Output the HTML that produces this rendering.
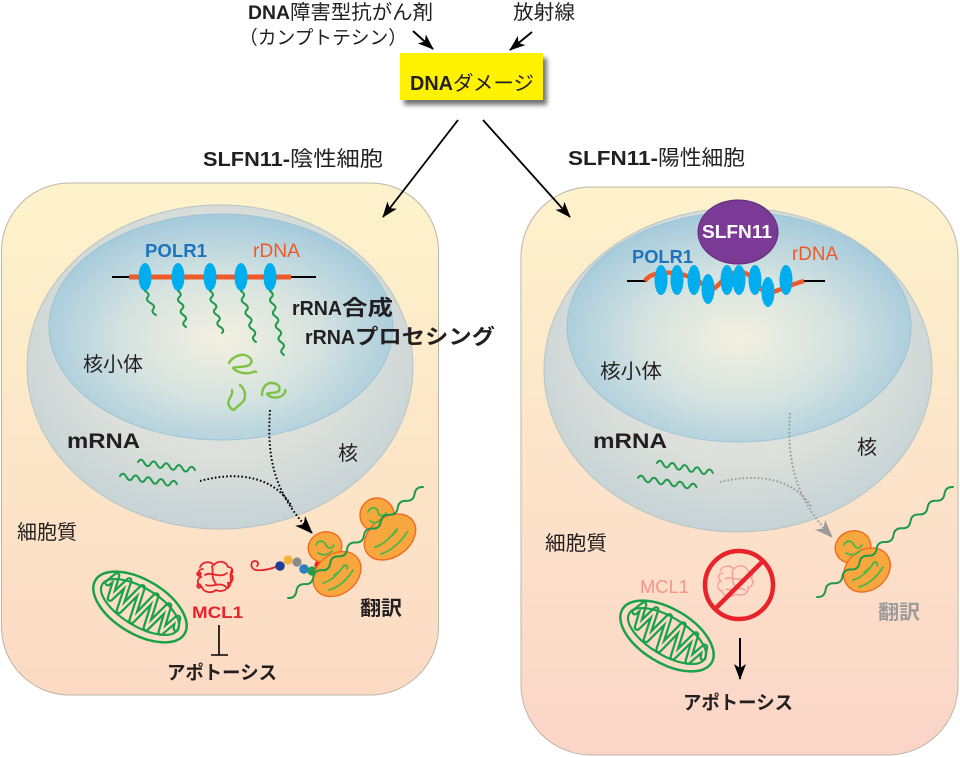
<!DOCTYPE html>
<html><head><meta charset="utf-8">
<style>
html,body{margin:0;padding:0;background:#fff;}
svg{display:block;}
text{font-family:"Liberation Sans","Noto Sans CJK JP",sans-serif;fill:#231f20;}
.b{font-weight:bold;}
</style></head><body>
<svg width="960" height="757" viewBox="0 0 960 757" xmlns="http://www.w3.org/2000/svg">
<defs>
 <linearGradient id="cellL" x1="0" y1="0" x2="0" y2="1">
  <stop offset="0" stop-color="#fdf3cb"/>
  <stop offset="1" stop-color="#fcdac4"/>
 </linearGradient>
 <linearGradient id="cellR" x1="0" y1="0" x2="0" y2="1">
  <stop offset="0" stop-color="#fdf2cb"/>
  <stop offset="1" stop-color="#fbd5c8"/>
 </linearGradient>
 <radialGradient id="nuc" cx="0.5" cy="0.42" r="0.6">
  <stop offset="0" stop-color="#eeede3"/>
  <stop offset="0.6" stop-color="#dcdfda"/>
  <stop offset="1" stop-color="#c4d2d6"/>
 </radialGradient>
 <radialGradient id="nuo" cx="0.5" cy="0.55" r="0.55">
  <stop offset="0" stop-color="#f3f0e0"/>
  <stop offset="0.5" stop-color="#d6e3e0"/>
  <stop offset="1" stop-color="#a4cadc"/>
 </radialGradient>
 <marker id="ah" markerUnits="userSpaceOnUse" markerWidth="16" markerHeight="12" viewBox="0 0 16 12" refX="15" refY="6" orient="auto">
  <path d="M0,0 L16,6 L0,12 L4,6Z" fill="#000"/>
 </marker>
 <marker id="ahd" markerUnits="userSpaceOnUse" markerWidth="18" markerHeight="14" viewBox="0 0 18 14" refX="17" refY="7" orient="auto">
  <path d="M0,0 L18,7 L0,14 L5,7Z" fill="#000"/>
 </marker>
 <marker id="ahg" markerUnits="userSpaceOnUse" markerWidth="18" markerHeight="14" viewBox="0 0 18 14" refX="17" refY="7" orient="auto">
  <path d="M0,0 L18,7 L0,14 L5,7Z" fill="#9a9a9a"/>
 </marker>
 <filter id="sh" x="-20%" y="-20%" width="150%" height="160%">
  <feDropShadow dx="4" dy="5" stdDeviation="2.5" flood-color="#000" flood-opacity="0.55"/>
 </filter>
</defs>

<!-- top labels -->
<text x="248" y="19" font-size="19" class="b" textLength="42" lengthAdjust="spacingAndGlyphs">DNA</text>
<text x="290" y="19" font-size="20" textLength="143" lengthAdjust="spacingAndGlyphs">障害型抗がん剤</text>
<text x="239" y="44" font-size="19" textLength="168" lengthAdjust="spacingAndGlyphs">（カンプトテシン）</text>
<text x="513" y="19" font-size="20" textLength="62" lengthAdjust="spacingAndGlyphs">放射線</text>

<line x1="413" y1="31" x2="433" y2="49" stroke="#000" stroke-width="2" marker-end="url(#ah)"/>
<line x1="532" y1="32" x2="510" y2="50" stroke="#000" stroke-width="2" marker-end="url(#ah)"/>

<rect x="400" y="53" width="143" height="47" fill="#fff200" filter="url(#sh)"/>
<text x="410" y="90" font-size="20" class="b" textLength="43" lengthAdjust="spacingAndGlyphs">DNA</text>
<text x="453" y="90" font-size="20" textLength="81" lengthAdjust="spacingAndGlyphs">ダメージ</text>

<text x="203" y="166" font-size="20" class="b" textLength="87" lengthAdjust="spacingAndGlyphs">SLFN11-</text>
<text x="290" y="166" font-size="21" textLength="93" lengthAdjust="spacingAndGlyphs">陰性細胞</text>
<text x="568" y="165" font-size="20" class="b" textLength="90" lengthAdjust="spacingAndGlyphs">SLFN11-</text>
<text x="658" y="165" font-size="21" textLength="87" lengthAdjust="spacingAndGlyphs">陽性細胞</text>

<!-- cells -->
<rect x="1.5" y="183" width="437" height="512" rx="68" ry="68" fill="url(#cellL)" stroke="#bdb5a8" stroke-width="1"/>
<rect x="521" y="187" width="437" height="568" rx="70" ry="70" fill="url(#cellR)" stroke="#bdb5a8" stroke-width="1"/>

<line x1="458" y1="120" x2="383" y2="217" stroke="#000" stroke-width="1.8" marker-end="url(#ah)"/>
<line x1="483" y1="120" x2="570" y2="217" stroke="#000" stroke-width="1.8" marker-end="url(#ah)"/>

<!-- LEFT nucleus -->
<ellipse cx="220" cy="367" rx="193" ry="162" fill="url(#nuc)" stroke="#b6c4c6" stroke-width="1"/>
<ellipse cx="221" cy="327" rx="172" ry="113" fill="url(#nuo)" stroke="#9ec3d3" stroke-width="1"/>

<text x="145" y="257" font-size="18" class="b" fill="#1c75bc" style="fill:#1c75bc" textLength="62" lengthAdjust="spacingAndGlyphs">POLR1</text>
<text x="253" y="257" font-size="19" style="fill:#f05a28" textLength="47" lengthAdjust="spacingAndGlyphs">rDNA</text>

<line x1="112" y1="277" x2="316" y2="277" stroke="#000" stroke-width="2"/>
<line x1="129" y1="277" x2="291" y2="277" stroke="#f05a28" stroke-width="5"/>
<g fill="#00aeef">
 <ellipse cx="145" cy="277" rx="6.5" ry="14"/>
 <ellipse cx="178" cy="277" rx="6.5" ry="14"/>
 <ellipse cx="210" cy="277" rx="6.5" ry="14"/>
 <ellipse cx="241" cy="277" rx="6.5" ry="14"/>
 <ellipse cx="270" cy="277" rx="6.5" ry="14"/>
</g>
<g fill="none" stroke="#1f9a4a" stroke-width="2" stroke-linecap="round">
 <path d="M145,291 q5.4,3 2.75,6 t2.75,6 t2.75,6 t2.75,6"/>
 <path d="M178,291 q4.7,3 1.33,6 t1.33,6 t1.33,6 t1.33,6 t1.33,6 t1.33,6"/>
 <path d="M210,291 q4.9,3 1.71,6 t1.71,6 t1.71,6 t1.71,6 t1.71,6 t1.71,6 t1.71,6"/>
 <path d="M241,291 q5,3.2 1.875,6.375 t1.875,6.375 t1.875,6.375 t1.875,6.375 t1.875,6.375 t1.875,6.375 t1.875,6.375 t1.875,6.375"/>
 <path d="M270,291 q4.7,3.2 1.4,6.4 t1.4,6.4 t1.4,6.4 t1.4,6.4 t1.4,6.4 t1.4,6.4 t1.4,6.4 t1.4,6.4 t1.4,6.4 t1.4,6.4"/>
</g>
<!-- processed rRNA fragments -->
<g fill="none" stroke="#7dc242" stroke-width="2.4" stroke-linecap="round" stroke-linejoin="round">
 <path d="M229,363 C232,357 240,354 245,355 C251,357 254,362 249,365 C245,368 236,366 233,368 C236,372 244,374 250,373 C253,372 255,371 256,372"/>
 <path d="M240,385 C245,389 246,395 244,400 C242,404 238,405 234,410 C230,409 227,404 229,400 C231,396 233,393 232,390"/>
 <path d="M262,395 C262,388 266,383 271,383 C277,383 281,386 279,391 C276,394 268,392 267,394 C270,398 278,399 283,395 C285,393 286,391 285,390"/>
</g>

<text x="292" y="315" font-size="20" class="b" textLength="50" lengthAdjust="spacingAndGlyphs">rRNA</text>
<text x="342" y="315" font-size="21" class="b" textLength="51" lengthAdjust="spacingAndGlyphs">合成</text>
<text x="305" y="344" font-size="20" class="b" textLength="50" lengthAdjust="spacingAndGlyphs">rRNA</text>
<text x="355" y="344" font-size="21" class="b" textLength="140" lengthAdjust="spacingAndGlyphs">プロセシング</text>

<text x="83" y="371" font-size="20" textLength="60" lengthAdjust="spacingAndGlyphs">核小体</text>
<text x="67" y="448" font-size="21" class="b" textLength="73" lengthAdjust="spacingAndGlyphs">mRNA</text>
<text x="338" y="460" font-size="20">核</text>

<g fill="none" stroke="#1f9a4a" stroke-width="2" stroke-linecap="round">
 <path d="M138,462 q3.2,-5 6.33,0.9 t6.33,0.9 t6.33,0.9 t6.33,0.9 t6.33,0.9 t6.33,0.9 t6.33,0.9 t6.33,0.9 t6.33,0.9"/>
 <path d="M120,476 q3.2,-5 6.33,0.9 t6.33,0.9 t6.33,0.9 t6.33,0.9 t6.33,0.9 t6.33,0.9 t6.33,0.9 t6.33,0.9 t6.33,0.9"/>
</g>

<!-- dotted transport arrows left -->
<g fill="none" stroke="#000" stroke-width="2" stroke-dasharray="1.6 2.2">
 <path d="M270,410 C267,455 272,492 312,533" marker-end="url(#ahd)"/>
 <path d="M200,481 C240,470 276,478 292,507"/>
</g>

<text x="17" y="539" font-size="20" textLength="60" lengthAdjust="spacingAndGlyphs">細胞質</text>

<!-- left mitochondrion -->
<g transform="translate(140,607) rotate(31)" fill="none" stroke-linejoin="round" stroke-linecap="round">
 <ellipse rx="52" ry="27" stroke="#1aa14a" stroke-width="2.5"/>
 <path d="M-40,-4 L-36,-15 L-30,8 L-23,-17 L-16,14 L-8,-18 L0,16 L8,-18 L16,15 L24,-16 L31,11 L38,-10 L42,0" stroke="#1aa14a" stroke-width="7"/>
 <path d="M-40,-4 L-36,-15 L-30,8 L-23,-17 L-16,14 L-8,-18 L0,16 L8,-18 L16,15 L24,-16 L31,11 L38,-10 L42,0" stroke="#fcdfc6" stroke-width="2.5"/>
 <ellipse rx="44" ry="19" stroke="#1aa14a" stroke-width="2.2"/>
</g>

<!-- MCL1 tangle -->
<g fill="none" stroke="#e8232a" stroke-width="1.8" stroke-linecap="round">
 <path d="M200,567 c3,-6 10,-6 14,-2 c4,-5 12,-4 14,2 c4,0 6,4 3,7 c3,3 2,9 -3,9 c2,6 -6,10 -12,7 c-5,4 -13,2 -14,-3 c-5,-1 -6,-8 -1,-10 c-4,-3 -3,-8 2,-8"/>
 <path d="M205,575 c5,-4 15,4 22,-2 M206,585 c6,3 14,-4 20,2 M212,566 c2,6 -2,10 4,18 M232,570 c-4,6 2,12 -4,18"/>
 <circle cx="199" cy="574" r="1.8"/><circle cx="199" cy="586" r="1.8"/>
</g>
<text x="192" y="618" font-size="17" class="b" style="fill:#e8232a" textLength="51" lengthAdjust="spacingAndGlyphs">MCL1</text>
<line x1="219" y1="625" x2="219" y2="655" stroke="#000" stroke-width="1.6"/>
<line x1="211" y1="655" x2="228" y2="655" stroke="#000" stroke-width="1.6"/>
<text x="167" y="679" font-size="19" class="b" textLength="110" lengthAdjust="spacingAndGlyphs">アポトーシス</text>

<!-- nascent chain -->
<path d="M276,567 c-6,2 -14,4 -20,3 c-6,-1 -6,-9 -1,-9 c3,0 4,3 2,5" fill="none" stroke="#e8232a" stroke-width="1.8" stroke-linecap="round"/>
<circle cx="288" cy="560" r="4.6" fill="#f6b33c"/>
<circle cx="297" cy="562" r="4.6" fill="#8a8a8a"/>
<circle cx="280" cy="566" r="4.8" fill="#1f3f99"/>
<circle cx="304" cy="569" r="4.8" fill="#2a7fc4"/>
<circle cx="312" cy="571" r="4.6" fill="#1e9e4a"/>
<circle cx="319" cy="565" r="4.6" fill="#e8232a"/>

<!-- left ribosomes -->
<g fill="#f8a73e" stroke="#f26a21" stroke-width="1.4">
 <ellipse cx="325" cy="547" rx="17" ry="15" transform="rotate(-20 325 547)"/>
 <ellipse cx="377" cy="515" rx="17" ry="17"/>
 <ellipse cx="337" cy="574" rx="26" ry="20" transform="rotate(-38 337 574)"/>
 <ellipse cx="390" cy="537" rx="28" ry="20" transform="rotate(-35 390 537)"/>
</g>
<g fill="none" stroke="#4cb748" stroke-width="1.8" stroke-linecap="round">
 <path d="M316,545 c3,-6 8,-4 10,0 c2,4 6,4 8,0 M318,553 c5,3 10,2 14,-2"/>
 <path d="M323,583 c8,-2 14,-8 20,-16 c2,-3 6,-2 4,2 M329,590 c10,-3 18,-10 24,-20 M334,575 c4,-2 8,-6 10,-10"/>
 <path d="M368,512 c3,-6 9,-5 10,0 c1,4 5,5 8,1 M370,521 c5,3 10,2 13,-3"/>
 <path d="M375,547 c8,-2 16,-10 22,-18 M381,554 c10,-3 20,-12 26,-22 M387,540 c3,-3 8,-6 10,-10"/>
</g>
<path d="M288,598 q7.4,0.4 8.44,-6.94 t8.44,-6.94 t8.44,-6.94 t8.44,-6.94 t8.44,-6.94 t8.44,-6.94 t8.44,-6.94 t8.44,-6.94 t8.44,-6.94 t8.44,-6.94 t8.44,-6.94 t8.44,-6.94 t8.44,-6.94 t8.44,-6.94 t8.44,-6.94 t8.44,-6.94" fill="none" stroke="#1f9a4a" stroke-width="2" stroke-linecap="round"/>
<text x="360" y="615" font-size="20" class="b" textLength="42" lengthAdjust="spacingAndGlyphs">翻訳</text>

<!-- RIGHT nucleus -->
<ellipse cx="738" cy="370" rx="194" ry="162" fill="url(#nuc)" stroke="#b6c4c6" stroke-width="1"/>
<ellipse cx="739" cy="327" rx="172" ry="115" fill="url(#nuo)" stroke="#9ec3d3" stroke-width="1"/>

<ellipse cx="738" cy="232" rx="40" ry="32" fill="#7b3a96" stroke="#5e2a76" stroke-width="1"/>
<text x="702" y="238" font-size="18" class="b" style="fill:#ffffff" textLength="70" lengthAdjust="spacingAndGlyphs">SLFN11</text>

<text x="632" y="263" font-size="18" class="b" style="fill:#1c75bc" textLength="61" lengthAdjust="spacingAndGlyphs">POLR1</text>
<text x="792" y="260" font-size="19" style="fill:#f05a28" textLength="46" lengthAdjust="spacingAndGlyphs">rDNA</text>

<line x1="627" y1="281" x2="646" y2="281" stroke="#000" stroke-width="2"/>
<line x1="803" y1="281" x2="825" y2="281" stroke="#000" stroke-width="2"/>
<path d="M645,281 C652,268 690,270 707,288 C716,296 722,272 740,272 C755,272 760,296 770,293 C780,290 790,285 804,281" fill="none" stroke="#f05a28" stroke-width="4.5"/>
<g fill="#00aeef">
 <ellipse cx="661" cy="280" rx="6.5" ry="15"/>
 <ellipse cx="677" cy="280" rx="6.5" ry="15"/>
 <ellipse cx="694" cy="280" rx="6.5" ry="15"/>
 <ellipse cx="708" cy="289" rx="6.5" ry="15"/>
 <ellipse cx="727" cy="280" rx="6.5" ry="15"/>
 <ellipse cx="739" cy="280" rx="6.5" ry="15"/>
 <ellipse cx="755" cy="280" rx="6.5" ry="15"/>
 <ellipse cx="768" cy="292" rx="6.5" ry="15"/>
 <ellipse cx="786" cy="280" rx="6.5" ry="15"/>
</g>

<text x="600" y="378" font-size="20" textLength="62" lengthAdjust="spacingAndGlyphs">核小体</text>
<text x="593" y="448" font-size="21" class="b" textLength="74" lengthAdjust="spacingAndGlyphs">mRNA</text>
<text x="857" y="454" font-size="20">核</text>

<g fill="none" stroke="#1f9a4a" stroke-width="2" stroke-linecap="round">
 <path d="M657,463 q3.1,-5 6.2,1.1 t6.2,1.1 t6.2,1.1 t6.2,1.1 t6.2,1.1 t6.2,1.1 t6.2,1.1 t6.2,1.1 t6.2,1.1"/>
 <path d="M638,478 q3.2,-5 6.5,1 t6.5,1 t6.5,1 t6.5,1 t6.5,1 t6.5,1 t6.5,1 t6.5,1 t6.5,1"/>
</g>

<g fill="none" stroke="#9a9a9a" stroke-width="2" stroke-dasharray="1.6 2.2">
 <path d="M790,413 C787,457 793,497 832,537" marker-end="url(#ahg)"/>
 <path d="M720,482 C760,472 796,480 812,508"/>
</g>

<text x="545" y="550" font-size="20" textLength="62" lengthAdjust="spacingAndGlyphs">細胞質</text>

<!-- prohibited MCL1 -->
<g fill="none" stroke="#f29a9a" stroke-width="1.3" stroke-linecap="round">
 <path d="M720,571 c3,-6 10,-6 14,-2 c4,-5 12,-4 14,2 c4,0 6,4 3,7 c3,3 2,9 -3,9 c2,6 -6,10 -12,7 c-5,4 -13,2 -14,-3 c-5,-1 -6,-8 -1,-10 c-4,-3 -3,-8 2,-8"/>
 <path d="M725,579 c5,-4 15,4 22,-2 M726,589 c6,3 14,-4 20,2 M732,570 c2,6 -2,10 4,18"/>
</g>
<circle cx="739" cy="585" r="34" fill="none" stroke="#e8232a" stroke-width="4.5"/>
<line x1="763" y1="561" x2="715" y2="609" stroke="#e8232a" stroke-width="4.5"/>
<text x="640" y="593" font-size="18" style="fill:#f4938c" textLength="49" lengthAdjust="spacingAndGlyphs">MCL1</text>

<!-- right mitochondrion -->
<g transform="translate(667,636) rotate(31)" fill="none" stroke-linejoin="round" stroke-linecap="round">
 <ellipse rx="52" ry="27" stroke="#1aa14a" stroke-width="2.5"/>
 <path d="M-40,-4 L-36,-15 L-30,8 L-23,-17 L-16,14 L-8,-18 L0,16 L8,-18 L16,15 L24,-16 L31,11 L38,-10 L42,0" stroke="#1aa14a" stroke-width="7"/>
 <path d="M-40,-4 L-36,-15 L-30,8 L-23,-17 L-16,14 L-8,-18 L0,16 L8,-18 L16,15 L24,-16 L31,11 L38,-10 L42,0" stroke="#fbdac9" stroke-width="2.5"/>
 <ellipse rx="44" ry="19" stroke="#1aa14a" stroke-width="2.2"/>
</g>

<line x1="740" y1="638" x2="740" y2="679" stroke="#000" stroke-width="2" marker-end="url(#ah)"/>
<text x="683" y="709" font-size="19" class="b" textLength="110" lengthAdjust="spacingAndGlyphs">アポトーシス</text>

<!-- right ribosome -->
<g fill="#f8a73e" stroke="#f26a21" stroke-width="1.4">
 <ellipse cx="853" cy="547" rx="18" ry="16" transform="rotate(-20 853 547)"/>
 <ellipse cx="867" cy="570" rx="25" ry="20" transform="rotate(-38 867 570)"/>
</g>
<g fill="none" stroke="#4cb748" stroke-width="1.8" stroke-linecap="round">
 <path d="M844,545 c3,-6 8,-4 10,0 c2,4 6,4 8,0 M846,553 c5,3 10,2 14,-2"/>
 <path d="M853,580 c8,-2 14,-8 20,-16 c2,-3 6,-2 4,2 M859,587 c10,-3 18,-10 24,-20 M864,572 c4,-2 8,-6 10,-10"/>
</g>
<path d="M817,597 q7.45,0.43 8.5,-6.875 t8.5,-6.875 t8.5,-6.875 t8.5,-6.875 t8.5,-6.875 t8.5,-6.875 t8.5,-6.875 t8.5,-6.875 t8.5,-6.875 t8.5,-6.875 t8.5,-6.875 t8.5,-6.875 t8.5,-6.875 t8.5,-6.875 t8.5,-6.875 t8.5,-6.875" fill="none" stroke="#1f9a4a" stroke-width="2" stroke-linecap="round"/>
<text x="878" y="619" font-size="20" class="b" style="fill:#9b9b9b" textLength="42" lengthAdjust="spacingAndGlyphs">翻訳</text>

</svg>
</body></html>
